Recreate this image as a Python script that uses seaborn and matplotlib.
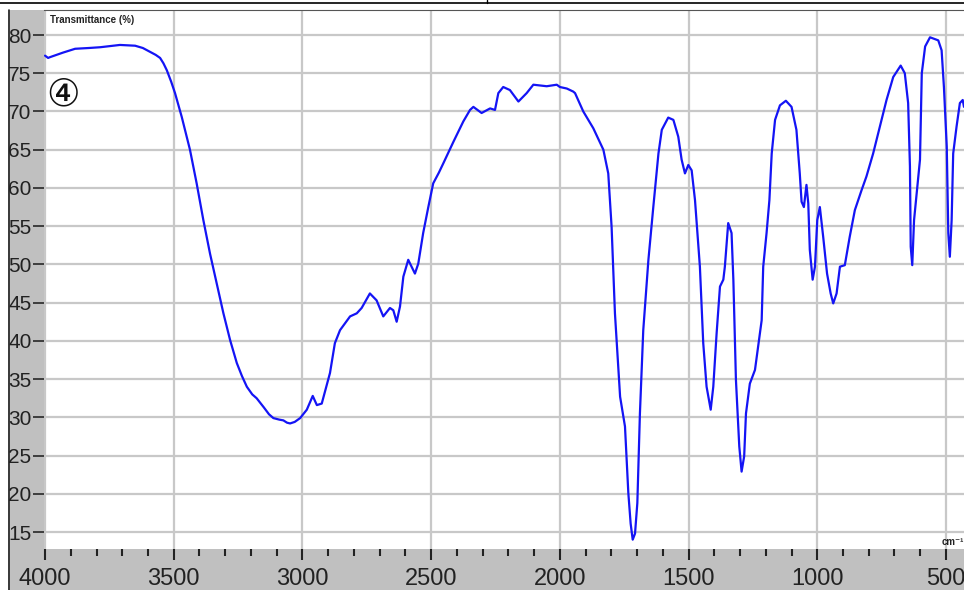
import matplotlib
matplotlib.use("Agg")
import matplotlib.pyplot as plt
import seaborn as sns
import pandas as pd
from matplotlib.patches import Rectangle
from matplotlib.lines import Line2D
from matplotlib.ticker import MultipleLocator

wavenumber = [4000, 3988, 3981, 3930, 3883, 3830, 3786, 3709, 3650, 3620, 3592, 3570, 3553, 3540,
              3527, 3510, 3495, 3469, 3437, 3411,
              3385, 3359, 3333, 3307, 3281, 3255, 3235, 3216, 3195, 3178, 3150, 3130, 3113, 3090,
              3074, 3060, 3048, 3030, 3009, 2983, 2960,
              2944, 2925, 2893, 2874, 2854, 2815, 2789, 2770, 2738, 2712, 2686, 2660, 2647, 2634,
              2621, 2608, 2589, 2563, 2550, 2531, 2511, 2492, 2470, 2453, 2414, 2375, 2349, 2336, 2304,
              2271, 2252, 2239, 2220, 2194, 2161, 2129, 2103, 2051, 2012, 2000, 1973, 1948, 1941,
              1909, 1870, 1831, 1812, 1799, 1786, 1766, 1747, 1734, 1725, 1717, 1708, 1699, 1689,
              1676, 1656, 1637, 1617, 1604, 1579, 1559, 1540, 1527, 1514, 1501, 1488, 1475, 1456,
              1443, 1430, 1414, 1404, 1391, 1378, 1365, 1359, 1346, 1333, 1326, 1316, 1303, 1294,
              1284, 1277, 1262, 1242, 1223, 1216, 1210, 1197, 1186, 1177, 1164, 1145, 1122, 1100,
              1081, 1068, 1061, 1052, 1042, 1035, 1029, 1018, 1009, 1000, 990, 977, 962, 948,
              938, 925, 912, 893, 874, 854, 828, 809, 783, 757, 731, 705, 676, 660, 647, 640,
              637, 631, 624, 614, 601, 594, 581, 562, 530, 517, 508, 497, 491, 485, 478, 472,
              459, 446, 435, 430]
transmittance = [77.3, 77.0, 77.1, 77.7, 78.2, 78.3, 78.4, 78.7, 78.6, 78.3, 77.8, 77.4, 77.0, 76.3,
                 75.4, 73.9, 72.4, 69.3, 65.0, 60.6,
                 55.8, 51.4, 47.5, 43.6, 40.1, 37.1, 35.4, 34.0, 33.0, 32.5, 31.3, 30.4, 29.9, 29.7,
                 29.6, 29.3, 29.2, 29.4, 29.9, 31.0, 32.8,
                 31.6, 31.8, 35.8, 39.7, 41.4, 43.2, 43.6, 44.3, 46.2, 45.3, 43.2, 44.3, 44.0, 42.5,
                 44.5, 48.4, 50.6, 48.8, 50.1, 54.1, 57.5, 60.6, 62.0, 63.2, 66.0, 68.7, 70.2, 70.6, 69.8,
                 70.4, 70.2, 72.4, 73.2, 72.8, 71.3, 72.4, 73.5, 73.3, 73.5, 73.2, 73.0, 72.6, 72.4,
                 70.0, 67.8, 65.0, 61.9, 54.9, 43.6, 32.7, 28.8, 20.1, 16.1, 14.0, 14.8, 18.8, 30.5,
                 41.4, 50.6, 57.5, 64.5, 67.6, 69.2, 68.9, 66.7, 63.7, 61.9, 63.0, 62.3, 58.4, 49.7,
                 39.7, 34.0, 31.0, 34.0, 41.0, 47.1, 48.0, 49.7, 55.4, 54.1, 48.0, 34.9, 26.2, 22.9,
                 24.9, 30.5, 34.4, 36.2, 41.0, 42.7, 49.7, 54.1, 58.4, 64.5, 68.9, 70.8, 71.4, 70.6,
                 67.6, 61.9, 58.2, 57.5, 60.4, 58.0, 51.9, 48.0, 49.7, 55.8, 57.5, 53.6, 48.8, 46.2,
                 44.9, 46.2, 49.7, 49.9, 53.6, 57.1, 59.7, 61.5, 64.5, 68.0, 71.5, 74.5, 76.0, 75.0,
                 71.1, 62.8, 52.3, 49.9, 55.8, 59.3, 63.7, 75.0, 78.5, 79.7, 79.3, 78.0, 73.2, 65.4,
                 54.1, 51.0, 55.8, 64.5, 68.0, 71.1, 71.5, 70.6]

x_ticks = [4000, 3500, 3000, 2500, 2000, 1500, 1000, 500]
y_ticks = [15, 20, 25, 30, 35, 40, 45, 50, 55, 60, 65, 70, 75, 80]
y_title = "Transmittance (%)"
x_unit = "cm\u207b\u00b9"
sample_label = "\u2463"

df = pd.DataFrame({"wn": wavenumber, "T": transmittance})

sns.set_theme(style="white")
plt.rcParams['font.family'] = ['Liberation Sans', 'DejaVu Sans']

W, H = 964, 590
fig = plt.figure(figsize=(W / 100, H / 100), dpi=100)
fig.patch.set_facecolor('#c0c0c0')

# white top strip and left margin strip
fig.add_artist(Rectangle((0, (H - 10) / H), 1, 10 / H, transform=fig.transFigure,
                         facecolor='white', edgecolor='none', zorder=0))
fig.add_artist(Rectangle((0, 0), 8 / W, 1, transform=fig.transFigure,
                         facecolor='white', edgecolor='none', zorder=0))
fig.add_artist(Line2D([0, 1], [(H - 2.5) / H] * 2, transform=fig.transFigure,
                      color='black', lw=1.2))
fig.add_artist(Line2D([487 / W, 487 / W], [(H - 2.5) / H, 1], transform=fig.transFigure,
                      color='black', lw=1.0))
fig.add_artist(Line2D([8.5 / W, 8.5 / W], [0, (H - 10) / H], transform=fig.transFigure,
                      color='#222222', lw=1.2))

ax = fig.add_axes([44 / W, 41 / H, 920 / W, 539 / H])
ax.set_facecolor('white')

sns.lineplot(data=df, x="wn", y="T", ax=ax, color='#1414f5', lw=1.6,
             estimator=None, sort=False)

ax.set_xlim(4004, 430)
ax.set_ylim(12.78, 83.27)
ax.set_xticks(x_ticks)
ax.set_xticklabels([str(v) for v in x_ticks])
ax.xaxis.set_minor_locator(MultipleLocator(100))
ax.set_yticks(y_ticks)
ax.set_yticklabels([str(v) for v in y_ticks])
ax.set_xlabel("")
ax.set_ylabel("")

ax.grid(True, which='major', color='#c8c8c8', lw=1.6)
ax.set_axisbelow(True)
for s in ['left', 'right', 'bottom']:
    ax.spines[s].set_visible(False)
ax.spines['top'].set_color('#555555')
ax.spines['top'].set_linewidth(0.8)

ax.tick_params(axis='x', which='major', direction='out', length=8, width=1.5,
               color='#222222', labelsize=17, pad=6, labelcolor='#222222', bottom=True)
ax.tick_params(axis='x', which='minor', direction='out', length=5, width=1.5,
               color='#222222', bottom=True)
ax.tick_params(axis='y', which='major', direction='out', length=8, width=1.3,
               color='#333333', labelsize=15, pad=1, labelcolor='#222222', left=True)

ax.text(6 / 920, 1 - 10 / 539, y_title, transform=ax.transAxes, fontsize=7,
        fontweight='bold', color='#222222', va='center', ha='left')
ax.text(898 / 920, 7 / 539, x_unit, transform=ax.transAxes, fontsize=7,
        fontweight='bold', color='#222222', va='center', ha='left', clip_on=False)
ax.text(2 / 920, 1 - 85 / 539, sample_label, transform=ax.transAxes, fontsize=27,
        color='#111111', va='center', ha='left',
        family=['DejaVu Sans', 'Noto Sans CJK JP'])

fig.savefig("out.png", dpi=100, facecolor=fig.get_facecolor())
